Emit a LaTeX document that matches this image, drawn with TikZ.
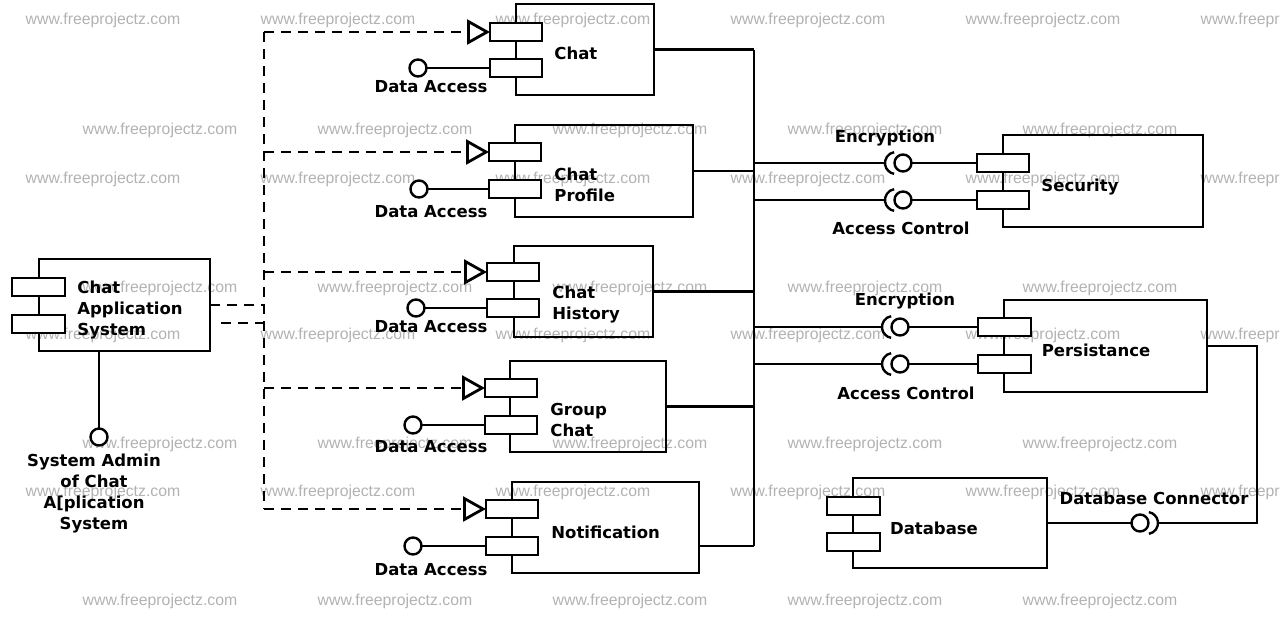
\documentclass[tikz,border=0pt]{standalone}
\usepackage{fontspec}
\setmainfont{DejaVu Sans}
\newfontfamily\wmfont{Liberation Sans}
\usetikzlibrary{arrows.meta}
\begin{document}
\begin{tikzpicture}[x=1pt,y=-1pt, line width=2.8pt,
  cbox/.style={draw, inner sep=0pt, outer sep=0pt, anchor=north west},
  port/.style={draw, fill=white, inner sep=0pt, outer sep=0pt, minimum width=52pt, minimum height=18pt, anchor=north west},
  ball/.style={draw, fill=white, circle, inner sep=0pt, outer sep=0pt, minimum size=17pt, line width=2.4pt},
  lbl/.style={font=\fontsize{16.5}{21}\selectfont\bfseries, inner sep=0pt},
  wm/.style={font=\wmfont\fontsize{15.8}{18}\selectfont, text=black!30, inner sep=0pt},
  depl/.style={dash pattern=on 10pt off 7pt},
  dep/.style={depl, -{Triangle[open, length=23pt, width=25pt]}},
  sock/.style={line width=2.4pt}
]
\useasboundingbox (0,0) rectangle (1280,638);
% watermarks
\foreach \yy in {20,179,335,492}{
  \foreach \xx [count=\i] in {103,338,573,808,1043,1278}{
    \node[wm] (wa\i-\yy) at (\xx,\yy) {www.freeprojectz.com};}}
\foreach \yy in {130,288,444,601}{
  \foreach \xx [count=\i] in {160,395,630,865,1100}{
    \node[wm] (wb\i-\yy) at (\xx,\yy) {www.freeprojectz.com};}}

% ---------- Chat Application System ----------
\node[cbox, minimum width=171pt, minimum height=92pt] (chatapp) at (39,259) {};
\node[port, minimum width=53pt] (capa) at (12,278) {};
\node[port, minimum width=53pt] (capb) at (12,315) {};
\node[lbl, anchor=west, align=left] (capl) at (76,310) {Chat\\Application\\System};
\node[ball] (admin) at (99,437) {};
\draw (admin) -- (admin |- chatapp.south);
\node[lbl, align=center] (adminl) at (94,494) {System Admin\\of Chat\\A[plication\\System};

% ---------- left components ----------
\node[cbox, minimum width=138pt, minimum height=91pt] (chat) at (516,4) {};
\node[port] (chatpa) at (490,23) {};
\node[port] (chatpb) at (490,59) {};
\node[lbl, anchor=west] (chatl) at (553,53) {Chat};
\node[ball] (chatda) at (418,68) {};
\node[lbl] (chatdal) at (431,87) {Data Access};

\node[cbox, minimum width=178pt, minimum height=92pt] (prof) at (515,125) {};
\node[port] (profpa) at (489,143) {};
\node[port] (profpb) at (489,180) {};
\node[lbl, anchor=west, align=left] (profl) at (553,185) {Chat\\Profile};
\node[ball] (profda) at (419,189) {};
\node[lbl] (profdal) at (431,212) {Data Access};

\node[cbox, minimum width=139pt, minimum height=91pt] (hist) at (514,246) {};
\node[port] (histpa) at (487,263) {};
\node[port] (histpb) at (487,299) {};
\node[lbl, anchor=west, align=left] (histl) at (551,305) {Chat\\History};
\node[ball] (histda) at (416,308) {};
\node[lbl] (histdal) at (431,327) {Data Access};

\node[cbox, minimum width=156pt, minimum height=91pt] (group) at (510,361) {};
\node[port] (grouppa) at (485,379) {};
\node[port] (grouppb) at (485,416) {};
\node[lbl, anchor=west, align=left] (groupl) at (549,420) {Group\\Chat};
\node[ball] (groupda) at (413,425) {};
\node[lbl] (groupdal) at (431,447) {Data Access};

\node[cbox, minimum width=187pt, minimum height=91pt] (notif) at (512,482) {};
\node[port] (notifpa) at (486,500) {};
\node[port] (notifpb) at (486,537) {};
\node[lbl, anchor=west] (notifl) at (550,532) {Notification};
\node[ball] (notifda) at (413,546) {};
\node[lbl] (notifdal) at (431,570) {Data Access};

% lollipop wires
\draw (chatda) -- (chatpb);
\draw (profda) -- (profpb);
\draw (histda) -- (histpb);
\draw (groupda) -- (grouppb);
\draw (notifda) -- (notifpb);

% ---------- dashed realization lines ----------
\coordinate (dvtop) at (264,32);
\coordinate (dvbot) at (264,509);
\draw[depl] (dvtop) -- (dvbot);
\draw[dep] (chatpa.west -| dvtop) -- (chatpa.west);
\draw[dep] (profpa.west -| dvtop) -- (profpa.west);
\draw[dep] (histpa.west -| dvtop) -- (histpa.west);
\draw[dep] (grouppa.west -| dvtop) -- (grouppa.west);
\draw[dep] (notifpa.west -| dvtop) -- (notifpa.west);
\draw[depl] (chatapp.east) -- (chatapp.east -| dvtop);
\coordinate (caB) at (221,323);
\draw[depl] (caB) -- (caB -| dvtop);

% ---------- bus ----------
\coordinate (bustop) at (754,49.5);
\coordinate (busbot) at (754,546);
\draw (bustop) -- (busbot);
\draw (chat.east) -- (chat.east -| bustop);
\draw (prof.east) -- (prof.east -| bustop);
\draw (hist.east) -- (hist.east -| bustop);
\draw (group.east) -- (group.east -| bustop);
\draw (busbot) -- (busbot -| notif.east);

% ---------- Security ----------
\node[cbox, minimum width=200pt, minimum height=92pt] (sec) at (1003,135) {};
\node[port] (secpa) at (977,154) {};
\node[port] (secpb) at (977,191) {};
\node[lbl] (secl) at (1080,187) {Security};
\node[ball] (secEb) at (903,163) {};
\node[ball] (secAb) at (903,200) {};
\coordinate (secEs) at (896,163);
\coordinate (secAs) at (896,200);
\draw (secEb) -- (secpa);
\draw (secAb) -- (secpb);
\draw (secEs -| bustop) -- ([xshift=-11pt]secEs);
\draw (secAs -| bustop) -- ([xshift=-11pt]secAs);
\draw[sock] ([shift={(100:11pt)}]secEs) arc[start angle=100, end angle=260, radius=11pt];
\draw[sock] ([shift={(100:11pt)}]secAs) arc[start angle=100, end angle=260, radius=11pt];
\node[lbl] (secEl) at (885,138) {Encryption};
\node[lbl] (secAl) at (901,228) {Access Control};

% ---------- Persistance ----------
\node[cbox, minimum width=203pt, minimum height=92pt] (pers) at (1004,300) {};
\node[port, minimum width=53pt] (perspa) at (978,318) {};
\node[port, minimum width=53pt] (perspb) at (978,355) {};
\node[lbl] (persl) at (1096,350) {Persistance};
\node[ball] (persEb) at (900,327) {};
\node[ball] (persAb) at (900,364) {};
\coordinate (persEs) at (893,327);
\coordinate (persAs) at (893,364);
\draw (persEb) -- (perspa);
\draw (persAb) -- (perspb);
\draw (persEs -| bustop) -- ([xshift=-11pt]persEs);
\draw (persAs -| bustop) -- ([xshift=-11pt]persAs);
\draw[sock] ([shift={(100:11pt)}]persEs) arc[start angle=100, end angle=260, radius=11pt];
\draw[sock] ([shift={(100:11pt)}]persAs) arc[start angle=100, end angle=260, radius=11pt];
\node[lbl] (persEl) at (905,301) {Encryption};
\node[lbl] (persAl) at (906,393) {Access Control};

% ---------- Database ----------
\node[cbox, minimum width=194pt, minimum height=90pt] (db) at (853,478) {};
\node[port, minimum width=53pt] (dbpa) at (827,497) {};
\node[port, minimum width=53pt] (dbpb) at (827,533) {};
\node[lbl] (dbl) at (934,528) {Database};
\node[ball] (dbb) at (1140,523) {};
\coordinate (dbs) at (1147,523);
\coordinate (dbturn) at (1257,523);
\draw (db.east) -- (dbb);
\draw (pers.east) -| (dbturn) -- ([xshift=11pt]dbs);
\draw[sock] ([shift={(-80:11pt)}]dbs) arc[start angle=-80, end angle=80, radius=11pt];
\node[lbl] (dbcl) at (1154,498) {Database Connector};
\end{tikzpicture}
\end{document}
